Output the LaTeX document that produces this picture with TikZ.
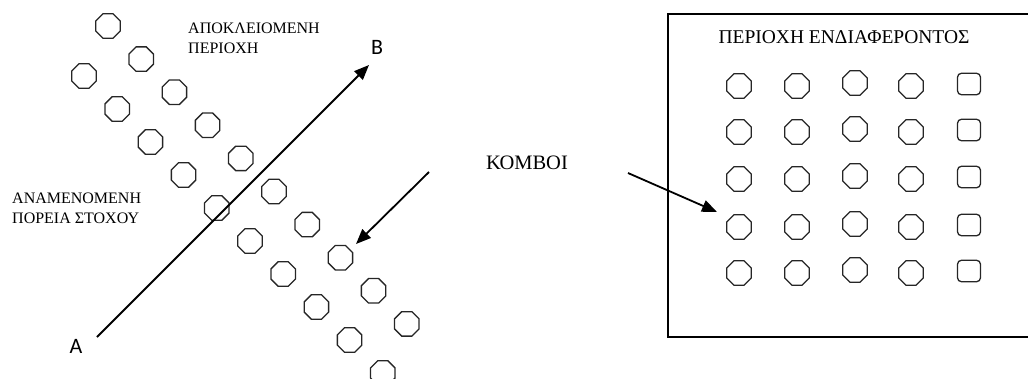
\documentclass[tikz,border=0pt]{standalone}
\usepackage{fontspec}
\setmainfont{Liberation Serif}
\newfontfamily\letterfont{Carlito}
\usetikzlibrary{shapes.geometric,arrows.meta,positioning}

\begin{document}
\begin{tikzpicture}[x=1pt,y=-1pt,
    oct/.style={draw=black!85,line width=1.3pt,regular polygon,regular polygon sides=8,minimum size=26.5pt,inner sep=0pt},
    sq/.style={draw=black!85,line width=1.3pt,rectangle,rounded corners=4pt,minimum width=23pt,minimum height=21.5pt,inner sep=0pt},
    arr/.style={line width=1.8pt,-{Triangle[length=15pt,width=12pt]}},
    lbl/.style={font=\fontsize{16}{20}\selectfont,align=left,inner sep=0pt,anchor=north west}]
  \useasboundingbox (0,0) rectangle (1028,378);

  % Nodes along the two diagonal rows
  \foreach \i in {0,...,9} {
    \node[oct] (r\i) at ({108+33.2*\i},{26+33.1*\i}) {};
    \node[oct] (l\i) at ({84+33.2*\i},{76+33*\i}) {};
  }

  % Labels on the left
  \node[lbl] (excl) at (188,23) {ΑΠΟΚΛΕΙΟΜΕΝΗ\\ΠΕΡΙΟΧΗ};
  \node[lbl] (path) at (12,193) {ΑΝΑΜΕΝΟΜΕΝΗ\\ΠΟΡΕΙΑ ΣΤΟΧΟΥ};
  \node[font=\letterfont\fontsize{22}{26}\selectfont] (A) at (76,346) {A};
  \node[font=\letterfont\fontsize{22}{26}\selectfont] (B) at (377,47) {B};

  % Expected path of the target
  \coordinate (a0) at (97,337);
  \coordinate (b0) at (369,65);
  \draw[arr] (a0) -- (b0);

  % Area of interest
  \draw[line width=1.8pt] (1028,14) -- (668,14) -- (668,337) -- (1028,337);
  \node[font=\fontsize{19.5}{22}\selectfont] (title) at (844,37) {ΠΕΡΙΟΧΗ ΕΝΔΙΑΦΕΡΟΝΤΟΣ};
  \foreach \r/\y in {1/86,2/132,3/179,4/227,5/273} {
    \node[oct] (g\r1) at (739,\y) {};
    \node[oct] (g\r2) at (797,\y) {};
    \node[oct] (g\r3) at (855,\y-3) {};
    \node[oct] (g\r4) at (911,\y) {};
    \node[sq]  (g\r5) at (969,\y-2) {};
  }

  % Nodes label and arrows
  \node[font=\fontsize{20.5}{24}\selectfont] (knot) at (527,163) {ΚΟΜΒΟΙ};
  \coordinate (kl) at (429,172);
  \coordinate (kr) at (628,173);
  \coordinate (tl) at (356,244);
  \coordinate (tr) at (717,212);
  \draw[arr] (kl) -- (tl);
  \draw[arr] (kr) -- (tr);
\end{tikzpicture}
\end{document}
